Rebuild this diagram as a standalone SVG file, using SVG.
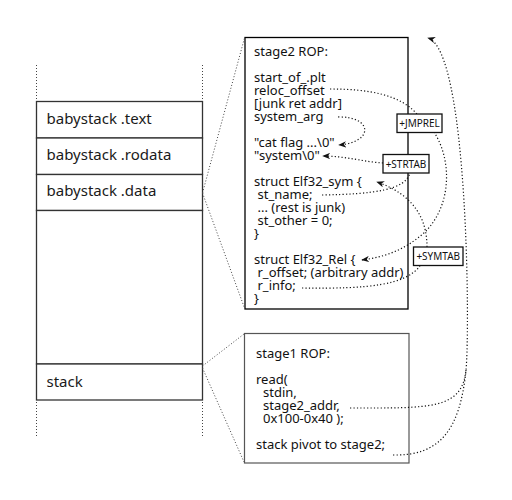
<svg xmlns="http://www.w3.org/2000/svg" width="512" height="500" viewBox="0 0 512 500">
<style>
.lbl{font-family:"Noto Sans","Open Sans",sans-serif;font-size:15px;fill:#1a1a1a}
.code{font-family:"Noto Sans","Open Sans",sans-serif;font-size:13px;fill:#111}
.tag{font-family:"Noto Sans","Open Sans",sans-serif;font-size:10px;fill:#111;text-anchor:middle}
.mem{fill:#fff;stroke:#333;stroke-width:1.3}
.tagbox{fill:#fff;stroke:#111;stroke-width:1.3}
.vdot{fill:none;stroke:#444;stroke-width:1;stroke-dasharray:1 2}
.dot{fill:none;stroke:#111;stroke-width:1.2;stroke-dasharray:1.2 2.2}
.arr{marker-end:url(#ah)}
</style>
<defs>
<marker id="ah" viewBox="0 0 10 8" refX="9" refY="4" markerWidth="8" markerHeight="6.4" markerUnits="userSpaceOnUse" orient="auto">
<path d="M0,0 L10,4 L0,8 L3,4 z" fill="#111"/>
</marker>
</defs>
<rect width="512" height="500" fill="#fff"/>
<g id="memory">
<line class="vdot" x1="36.5" y1="65" x2="36.5" y2="99"/>
<line class="vdot" x1="202.5" y1="65" x2="202.5" y2="99"/>
<line class="vdot" x1="36.5" y1="402" x2="36.5" y2="437"/>
<line class="vdot" x1="202.5" y1="402" x2="202.5" y2="437"/>
<g id="text-seg"><rect class="mem" x="36.5" y="101.5" width="166" height="36.5"/><text class="lbl" x="46.5" y="123.5">babystack .text</text></g>
<g id="rodata-seg"><rect class="mem" x="36.5" y="138" width="166" height="36.5"/><text class="lbl" x="46.5" y="159.5">babystack .rodata</text></g>
<g id="data-seg"><rect class="mem" x="36.5" y="174.5" width="166" height="36"/><text class="lbl" x="46.5" y="195.5">babystack .data</text></g>
<g id="gap-seg"><rect class="mem" x="36.5" y="210.5" width="166" height="153.5"/></g>
<g id="stack-seg"><rect class="mem" x="36.5" y="364" width="166" height="36"/><text class="lbl" x="46.5" y="386.5">stack</text></g>
</g>
<g id="stage2">
<rect x="245" y="37.5" width="163" height="271.5" fill="#fff" stroke="#000" stroke-width="1.3"/>
<text class="code" x="254" y="56">stage2 ROP:</text>
<text class="code" x="254" y="82">start_of_.plt</text>
<text class="code" x="254" y="95">reloc_offset</text>
<text class="code" x="254" y="108">[junk ret addr]</text>
<text class="code" x="254" y="121">system_arg</text>
<text class="code" x="254" y="147">"cat flag ...\0"</text>
<text class="code" x="254" y="160">"system\0"</text>
<text class="code" x="254" y="186">struct Elf32_sym {</text>
<text class="code" x="257.5" y="199">st_name;</text>
<text class="code" x="257.5" y="212">... (rest is junk)</text>
<text class="code" x="257.5" y="225">st_other = 0;</text>
<text class="code" x="254" y="238">}</text>
<text class="code" x="254" y="264">struct Elf32_Rel {</text>
<text class="code" x="257.5" y="277">r_offset; (arbitrary addr)</text>
<text class="code" x="257.5" y="290">r_info;</text>
<text class="code" x="254" y="303">}</text>
</g>
<g id="stage1">
<rect x="244.5" y="333.5" width="164.5" height="129.5" fill="#fff" stroke="#555" stroke-width="1.2"/>
<text class="code" x="256" y="358">stage1 ROP:</text>
<text class="code" x="256" y="384">read(</text>
<text class="code" x="263" y="397">stdin,</text>
<text class="code" x="263" y="410">stage2_addr,</text>
<text class="code" x="263" y="423">0x100-0x40 );</text>
<text class="code" x="256" y="449">stack pivot to stage2;</text>
</g>
<g id="connectors">
<line class="vdot" x1="202.5" y1="193" x2="244.5" y2="38"/>
<line class="vdot" x1="202.5" y1="193" x2="244.5" y2="308"/>
<line class="vdot" x1="202.5" y1="366" x2="244" y2="334"/>
<line class="vdot" x1="202.5" y1="368" x2="244" y2="462"/>
<path class="dot" d="M330,89 C370,89 400,95 417,114"/>
<path class="dot arr" d="M338,117 C372,116 375,142 339,145"/>
<path class="dot arr" d="M383,163 C365,162 345,156 323,156"/>
<path class="dot" d="M322,195 C375,194 405,190 410,173"/>
<path class="dot arr" d="M427,247 C427,220 415,195 377,182"/>
<path class="dot arr" d="M434,132 C452,160 452,205 425,232 C405,250 385,257 362,260"/>
<path class="dot" d="M302,288 C370,289 405,285 420,266"/>
<path class="dot arr" d="M350,408 C430,408 462,410 466,370 C470,330 468,50 428,38"/>
<path class="dot" d="M393,455 C440,456 460,430 466,370"/>
</g>
<g id="jmprel"><rect class="tagbox" x="397" y="114" width="45" height="18.5"/><text class="tag" x="419.5" y="126.5">+JMPREL</text></g>
<g id="strtab"><rect class="tagbox" x="383" y="154.5" width="46" height="18.5"/><text class="tag" x="406" y="167.5">+STRTAB</text></g>
<g id="symtab"><rect class="tagbox" x="413.5" y="247" width="49.5" height="18.5"/><text class="tag" x="438.25" y="260">+SYMTAB</text></g>
</svg>
